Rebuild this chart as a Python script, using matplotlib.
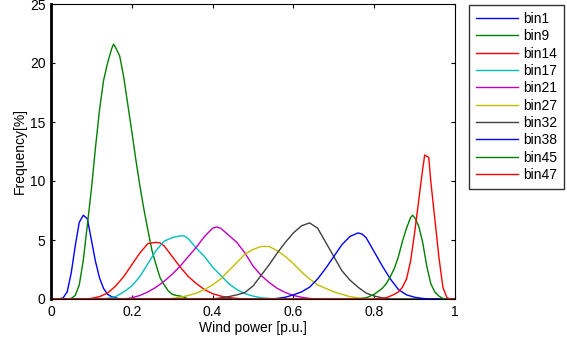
import matplotlib
matplotlib.use("Agg")
import matplotlib.pyplot as plt

plt.rcParams['font.family'] = ['Liberation Sans', 'DejaVu Sans']

# wind power bins: x [p.u.] and frequency [%]
labels = ["bin1", "bin9", "bin14", "bin17", "bin21", "bin27", "bin32", "bin38", "bin45", "bin47"]
colors = ["#0000ff", "#008000", "#ff0000", "#00bfbf", "#bf00bf",
          "#bfbf00", "#404040", "#0000ff", "#008000", "#ff0000"]

bin1_x = [0.02, 0.03, 0.04, 0.05, 0.06, 0.07, 0.08, 0.09, 0.10, 0.11, 0.12, 0.13, 0.14, 0.15, 0.16, 0.17]
bin1_y = [0.0, 0.1, 0.6, 2.2, 4.5, 6.5, 7.1, 6.8, 5.0, 3.2, 1.8, 0.9, 0.4, 0.2, 0.1, 0.0]

bin9_x = [0.04, 0.05, 0.06, 0.07, 0.08, 0.09, 0.10, 0.11, 0.12, 0.13, 0.14, 0.15, 0.155, 0.16, 0.17,
          0.18, 0.19, 0.20, 0.21, 0.22, 0.23, 0.24, 0.25, 0.26, 0.27, 0.28, 0.29, 0.30, 0.31, 0.32, 0.33, 0.34]
bin9_y = [0.0, 0.05, 0.3, 1.2, 3.3, 6.3, 9.3, 12.8, 16.0, 18.5, 20.0, 21.2, 21.6, 21.3, 20.6,
          18.8, 16.5, 14.2, 11.8, 9.6, 7.6, 5.8, 4.1, 2.9, 1.8, 1.2, 0.7, 0.4, 0.3, 0.25, 0.15, 0.0]

bin14_x = [0.08, 0.10, 0.12, 0.14, 0.16, 0.18, 0.20, 0.22, 0.24, 0.26, 0.27, 0.28, 0.30, 0.32,
           0.34, 0.36, 0.38, 0.40, 0.42, 0.44, 0.46, 0.48]
bin14_y = [0.0, 0.05, 0.2, 0.5, 1.1, 1.9, 2.9, 3.9, 4.7, 4.8, 4.75, 4.5, 3.6, 2.7,
           1.9, 1.3, 0.8, 0.45, 0.25, 0.12, 0.05, 0.0]

bin17_x = [0.12, 0.14, 0.16, 0.18, 0.20, 0.22, 0.24, 0.26, 0.28, 0.30, 0.32, 0.33, 0.34, 0.36,
           0.38, 0.40, 0.42, 0.44, 0.46, 0.48, 0.50, 0.52, 0.54, 0.56]
bin17_y = [0.0, 0.05, 0.2, 0.6, 1.1, 1.9, 3.0, 4.1, 4.9, 5.2, 5.35, 5.35, 5.1, 4.3,
           3.6, 2.7, 2.0, 1.3, 0.8, 0.45, 0.25, 0.1, 0.05, 0.0]

bin21_x = [0.18, 0.20, 0.22, 0.24, 0.26, 0.28, 0.30, 0.32, 0.34, 0.36, 0.38, 0.40, 0.41, 0.42,
           0.44, 0.46, 0.48, 0.50, 0.52, 0.54, 0.56, 0.58, 0.60, 0.62, 0.64, 0.66]
bin21_y = [0.0, 0.1, 0.3, 0.6, 1.0, 1.5, 2.1, 2.8, 3.6, 4.4, 5.3, 6.0, 6.1, 6.0,
           5.4, 4.8, 3.9, 2.8, 2.0, 1.4, 0.9, 0.55, 0.3, 0.15, 0.05, 0.0]

bin27_x = [0.28, 0.30, 0.32, 0.34, 0.36, 0.38, 0.40, 0.42, 0.44, 0.46, 0.48, 0.50, 0.52, 0.54,
           0.56, 0.58, 0.60, 0.62, 0.64, 0.66, 0.68, 0.70, 0.72, 0.74, 0.76, 0.78, 0.80]
bin27_y = [0.0, 0.05, 0.15, 0.3, 0.5, 0.8, 1.2, 1.7, 2.4, 3.1, 3.8, 4.2, 4.45, 4.45,
           4.1, 3.6, 3.0, 2.3, 1.7, 1.2, 0.9, 0.6, 0.4, 0.2, 0.1, 0.05, 0.0]

bin32_x = [0.40, 0.42, 0.44, 0.46, 0.48, 0.50, 0.52, 0.54, 0.56, 0.58, 0.60, 0.62, 0.64, 0.66,
           0.68, 0.70, 0.72, 0.74, 0.76, 0.78, 0.80, 0.82, 0.84]
bin32_y = [0.0, 0.1, 0.2, 0.35, 0.55, 1.1, 2.0, 2.9, 3.9, 4.8, 5.6, 6.2, 6.45, 6.0,
           4.8, 3.6, 2.4, 1.6, 1.0, 0.5, 0.25, 0.1, 0.0]

bin38_x = [0.54, 0.56, 0.58, 0.60, 0.62, 0.64, 0.66, 0.68, 0.70, 0.72, 0.74, 0.76, 0.77, 0.78,
           0.80, 0.82, 0.84, 0.86, 0.88, 0.90, 0.92, 0.94]
bin38_y = [0.0, 0.05, 0.15, 0.35, 0.6, 1.0, 1.7, 2.6, 3.6, 4.6, 5.3, 5.6, 5.5, 5.2,
           4.0, 2.8, 1.7, 0.8, 0.35, 0.15, 0.05, 0.0]

bin45_x = [0.76, 0.78, 0.80, 0.82, 0.83, 0.84, 0.85, 0.86, 0.87, 0.88, 0.89, 0.895, 0.90, 0.91,
           0.92, 0.93, 0.94, 0.95, 0.96, 0.97, 0.98]
bin45_y = [0.0, 0.1, 0.4, 0.9, 1.3, 1.9, 2.6, 3.6, 4.9, 6.0, 6.9, 7.1, 6.9, 6.2,
           4.8, 2.8, 1.3, 0.6, 0.25, 0.05, 0.0]

bin47_x = [0.80, 0.83, 0.85, 0.86, 0.87, 0.88, 0.89, 0.90, 0.91, 0.92, 0.925, 0.935, 0.94,
           0.95, 0.96, 0.97, 0.98, 0.99]
bin47_y = [0.0, 0.1, 0.4, 0.6, 1.0, 1.7, 3.2, 5.6, 8.3, 11.0, 12.2, 12.0, 10.0,
           6.8, 3.6, 1.0, 0.1, 0.0]

xs = [bin1_x, bin9_x, bin14_x, bin17_x, bin21_x, bin27_x, bin32_x, bin38_x, bin45_x, bin47_x]
ys = [bin1_y, bin9_y, bin14_y, bin17_y, bin21_y, bin27_y, bin32_y, bin38_y, bin45_y, bin47_y]

fig = plt.figure(figsize=(5.67, 3.47), dpi=100)
ax = fig.add_axes([51/567, 1 - 299/347, 404/567, 295/347])

for x, y, c, lab in zip(xs, ys, colors, labels):
    # curves lie on zero over the rest of the range
    ax.plot([0.0] + x + [1.0], [0.0] + y + [0.0], color=c, lw=1.0, label=lab)

ax.set_xlim(0, 1)
ax.set_ylim(0, 25)
ax.set_xticks([0, 0.2, 0.4, 0.6, 0.8, 1])
ax.set_xticklabels(["0", "0.2", "0.4", "0.6", "0.8", "1"])
ax.set_yticks([0, 5, 10, 15, 20, 25])
ax.tick_params(direction='in', top=True, right=True, labelsize=10, length=3, width=0.8, pad=4)
for s in ax.spines.values():
    s.set_linewidth(0.8)
ax.spines['left'].set_linewidth(2)
ax.set_xlabel("Wind power [p.u.]", fontsize=10, labelpad=2)
ax.set_ylabel("Frequency[%]", fontsize=10, labelpad=2)

leg = fig.legend(loc='upper left', bbox_to_anchor=(469/567, 1 - 5/347), fontsize=10,
                 frameon=True, fancybox=False, edgecolor='black', handlelength=3.0,
                 handletextpad=0.4, labelspacing=0.24, borderpad=0.5, borderaxespad=0)
leg.get_frame().set_linewidth(1.0)

fig.savefig("out.png", dpi=100)
